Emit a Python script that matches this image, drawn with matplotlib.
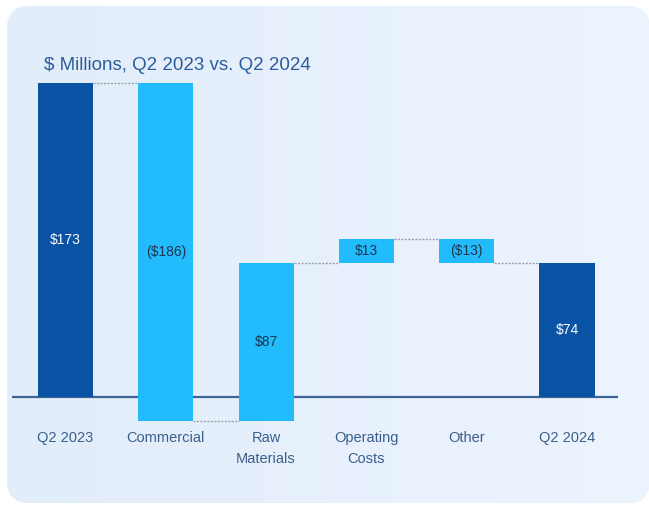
import matplotlib
matplotlib.use("Agg")
import matplotlib.pyplot as plt
from matplotlib.patches import FancyBboxPatch
import numpy as np

plt.rcParams['font.family'] = ['Liberation Sans', 'DejaVu Sans']

# Waterfall data, $ millions
categories = ["Q2 2023", "Commercial", "Raw\nMaterials", "Operating\nCosts", "Other", "Q2 2024"]
changes = [173, -186, 87, 13, -13, 74]
is_total = [True, False, False, False, False, True]
value_labels = ["$173", "($186)", "$87", "$13", "($13)", "$74"]

DARK = "#0a52a3"
LIGHT = "#22bcfc"
TEXT = "#3b5f8c"

fig = plt.figure(figsize=(6.49, 5.05), dpi=100)
fig.patch.set_facecolor("white")

# rounded background panel with a soft horizontal gradient
bg = fig.add_axes([0, 0, 1, 1])
bg.set_xlim(0, 649)
bg.set_ylim(505, 0)
bg.axis("off")
panel = FancyBboxPatch((7, 6), 643, 497, boxstyle="round,pad=0,rounding_size=22",
                       facecolor="none", edgecolor="none")
bg.add_patch(panel)
grad = np.linspace(0, 1, 256).reshape(1, -1)
cmap = matplotlib.colors.LinearSegmentedColormap.from_list("bg", ["#e2edfa", "#ecf4fe"])
img = bg.imshow(grad, extent=(7, 650, 503, 6), cmap=cmap, aspect="auto", zorder=0)
img.set_clip_path(panel)

bg.text(44, 66, "$ Millions, Q2 2023 vs. Q2 2024", fontsize=13.5, color="#2a5d9c",
        va="center", ha="left")

# chart axes: baseline at y=397px, 1.815 px per $M
px_per = 1.815
y_top, y_bot = 190, -30
top_px = 397 - y_top * px_per
bot_px = 397 - y_bot * px_per
x_left, x_right = 12, 618
ax = fig.add_axes([x_left / 649, 1 - bot_px / 505, (x_right - x_left) / 649,
                   (bot_px - top_px) / 505])
ax.set_facecolor("none")
ax.set_xlim((x_left - 65.5) / 100.3, (x_right - 65.5) / 100.3)
ax.set_ylim(y_bot, y_top)

bottoms, tops = [], []
running = 0
for ch, tot in zip(changes, is_total):
    if tot:
        b, t = 0, ch
        running = ch
    else:
        b, t = running, running + ch
        running = t
    bottoms.append(min(b, t))
    tops.append(max(b, t))

x = np.arange(len(categories))
colors = [DARK if t else LIGHT for t in is_total]
heights = [t - b for b, t in zip(bottoms, tops)]
ax.bar(x, heights, bottom=bottoms, width=0.55, color=colors, zorder=3)

# dotted connectors between consecutive bars
running = 0
for i in range(len(changes) - 1):
    running = changes[i] if is_total[i] else running + changes[i]
    ax.plot([i + 0.275, i + 1 - 0.275], [running, running], color="#9aa3ad",
            linestyle=(0, (1.5, 1)), linewidth=1.0, zorder=2)

for i, (b, t, lab) in enumerate(zip(bottoms, tops, value_labels)):
    ax.text(i, (b + t) / 2, lab, ha="center", va="center", fontsize=10,
            color="white" if is_total[i] else "#1d3550", zorder=4)

ax.axhline(0, color="#3f6394", linewidth=1.6, zorder=2)

for i, lab in enumerate(categories):
    ax.text(i, -19, lab, ha="center", va="top", fontsize=10.5, color=TEXT,
            linespacing=1.6)

for s in ax.spines.values():
    s.set_visible(False)
ax.set_xticks([])
ax.set_yticks([])

fig.savefig("out.png", dpi=100)
